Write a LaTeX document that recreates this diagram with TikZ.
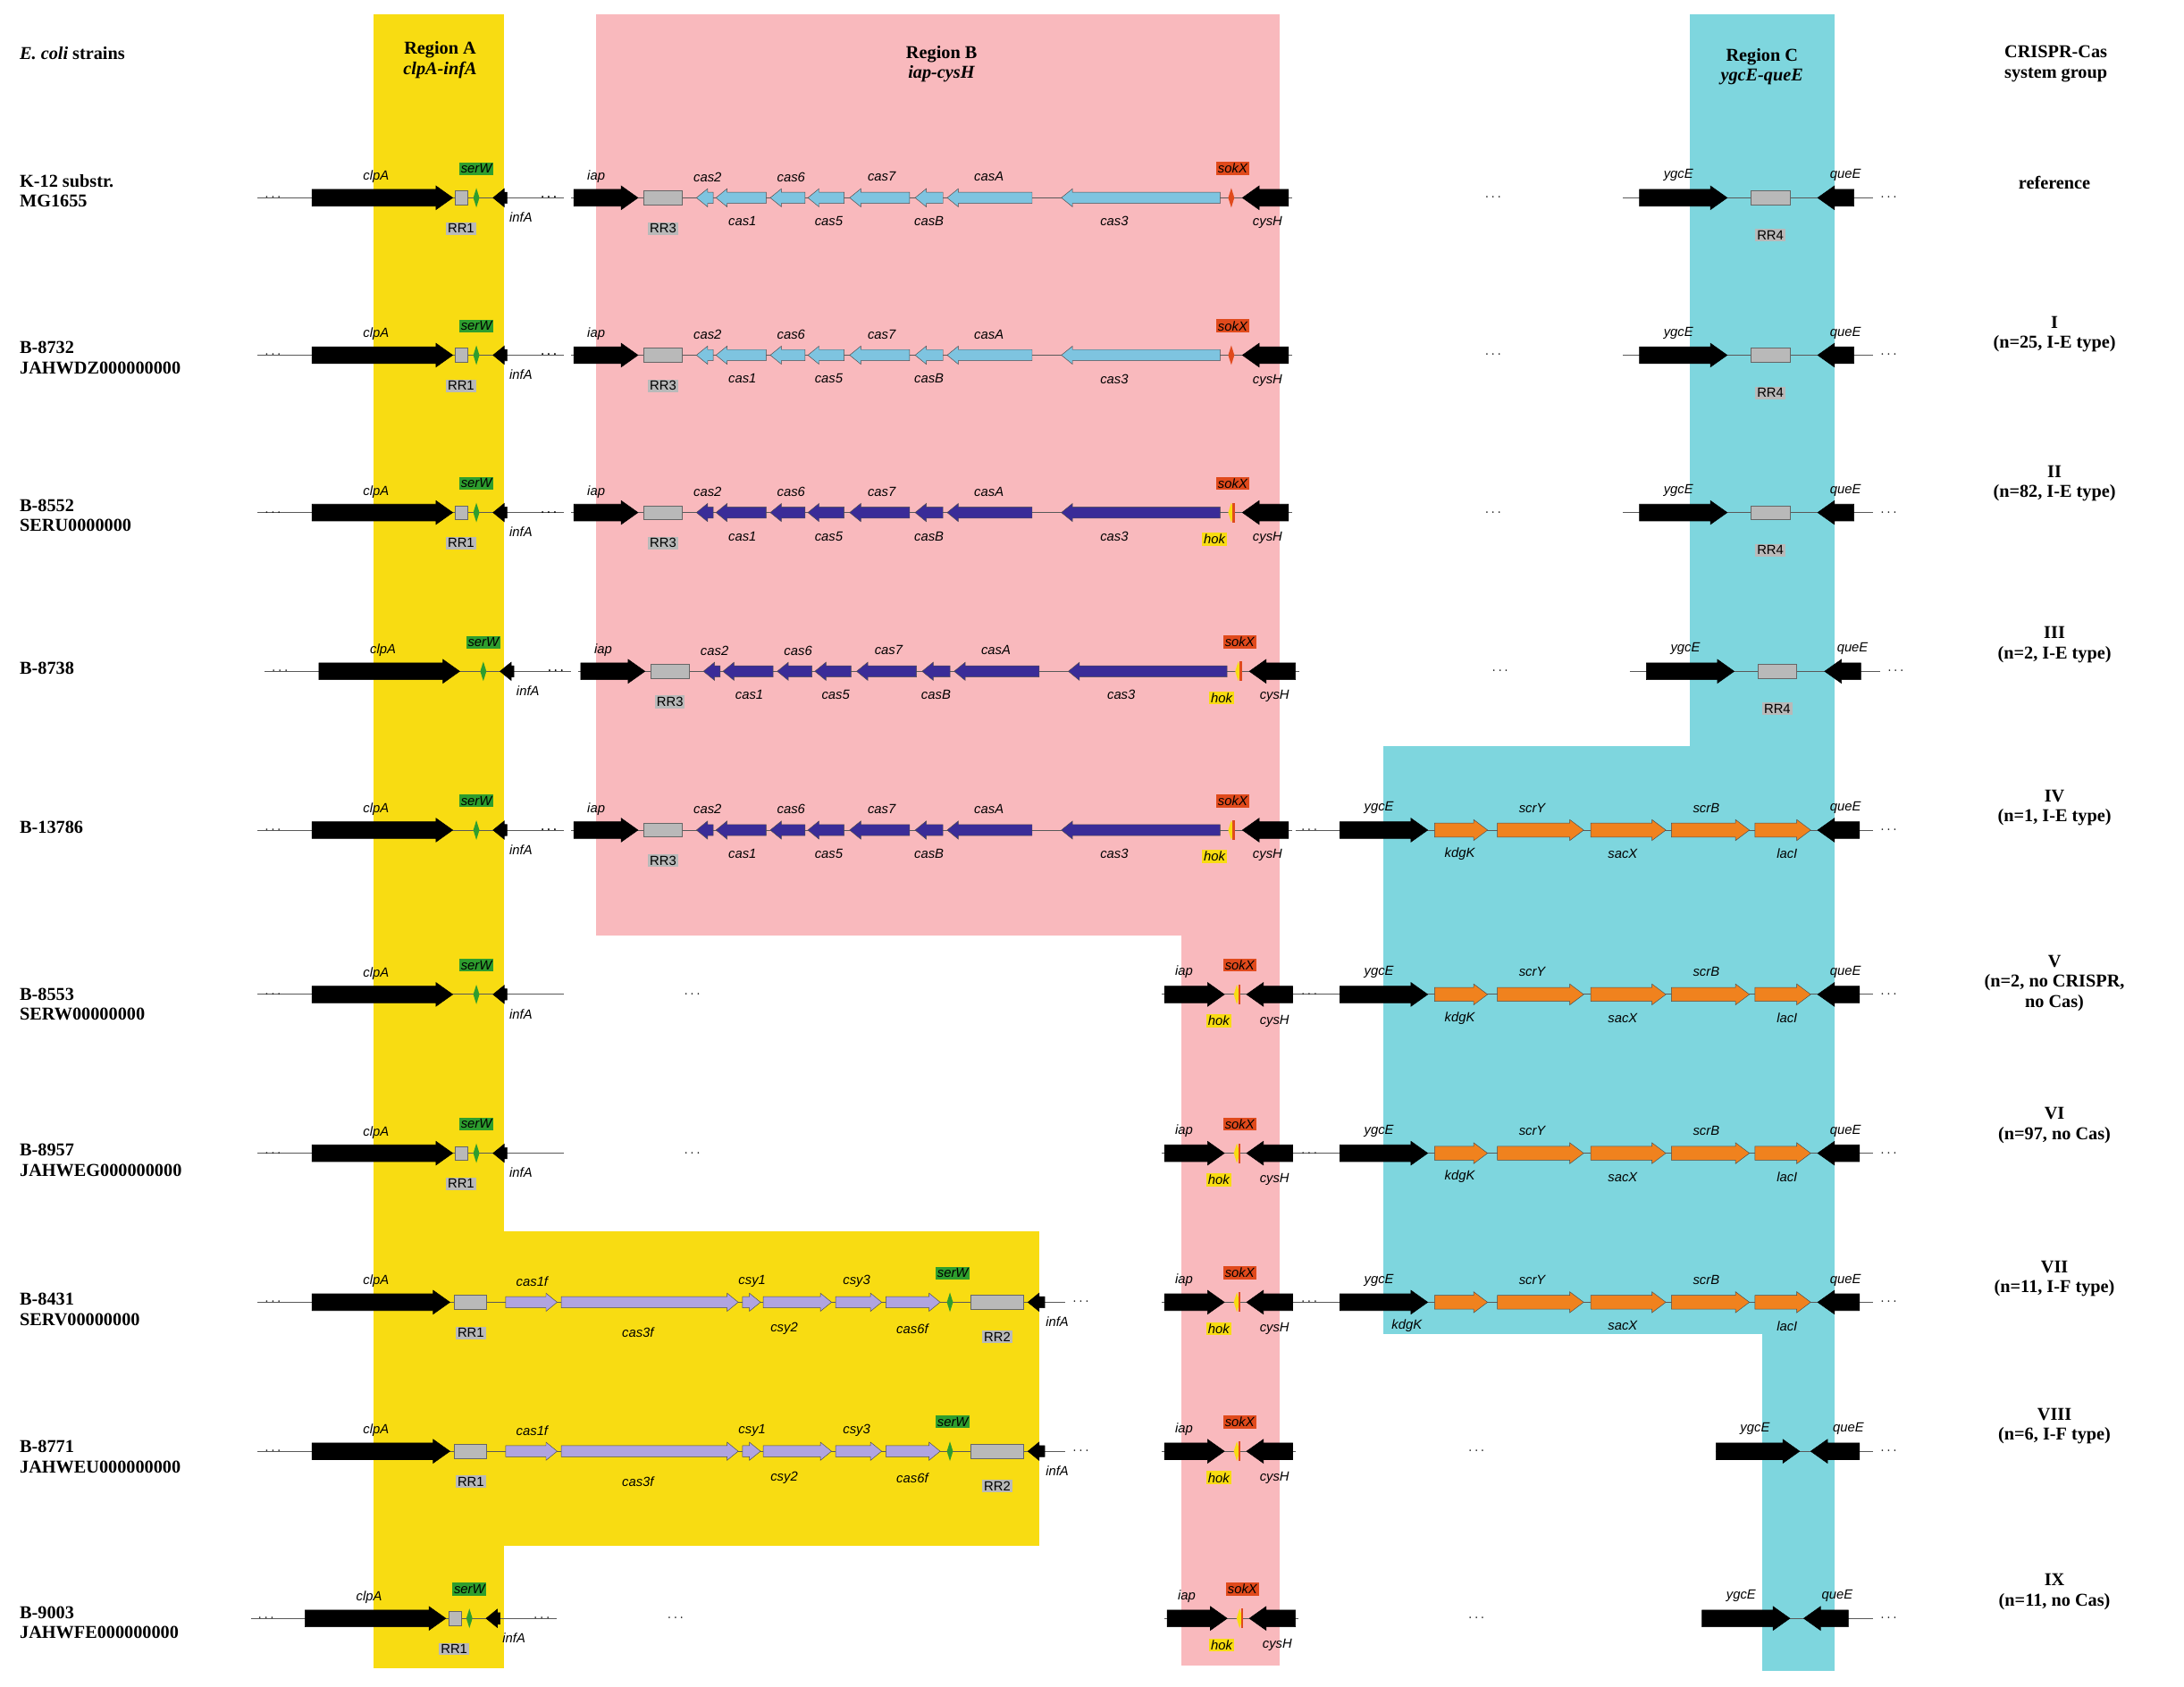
\documentclass[tikz,border=0pt]{standalone}
\usepackage{fontspec}
\setmainfont{Liberation Serif}
\setsansfont{Liberation Sans}
\definecolor{yel}{HTML}{F8DC12}
\definecolor{pnk}{HTML}{F9B9BD}
\definecolor{cyn}{HTML}{7ED6DE}
\definecolor{lb}{HTML}{7EC4E0}
\definecolor{db}{HTML}{3A2C98}
\definecolor{org}{HTML}{F0821E}
\definecolor{lav}{HTML}{B0A4E0}
\definecolor{sw}{HTML}{2E9E2E}
\definecolor{sk}{HTML}{E04A1C}
\definecolor{hk}{HTML}{F8DC12}
\tikzset{
 gl/.style={font=\sffamily\itshape\fontsize{9.5}{10}\selectfont, inner sep=0.5pt},
 rrbox/.style={gl, font=\sffamily\fontsize{9.5}{10}\selectfont, fill=gray!55, inner sep=1.2pt},
 serw/.style={gl, fill=sw, inner sep=1.2pt},
 sokx/.style={gl, fill=sk, inner sep=1.2pt},
 hokb/.style={gl, fill=hk, inner sep=1.2pt},
 ln/.style={draw=gray!70!black, line width=0.6pt},
 blk/.style={fill=black, draw=black},
 gene/.style={draw=black!70, line width=0.3pt},
 strain/.style={font=\bfseries\fontsize{13}{14.5}\selectfont, align=left, anchor=west, inner sep=0},
 grp/.style={font=\bfseries\fontsize{13}{14.5}\selectfont, align=center, inner sep=0},
 hdr/.style={font=\bfseries\fontsize{13}{14.5}\selectfont, align=center, inner sep=0},
 dts/.style={font=\fontsize{10}{10}\selectfont, inner sep=0}
}
\newcommand\rarr[5]{\draw[#4] (#1,{#3-#5}) -- ({#2-2*#5},{#3-#5}) -- ({#2-2*#5},{#3-#5-2.5}) -- (#2,#3) -- ({#2-2*#5},{#3+#5+2.5}) -- ({#2-2*#5},{#3+#5}) -- (#1,{#3+#5}) -- cycle;}
\newcommand\larr[5]{\draw[#4] (#2,{#3-#5}) -- ({#1+2*#5},{#3-#5}) -- ({#1+2*#5},{#3-#5-2.5}) -- (#1,#3) -- ({#1+2*#5},{#3+#5+2.5}) -- ({#1+2*#5},{#3+#5}) -- (#2,{#3+#5}) -- cycle;}
\newcommand\dia[3]{\fill[#3] (#1,{#2-7}) -- ({#1+2.2},#2) -- (#1,{#2+7}) -- ({#1-2.2},#2) -- cycle;}
% region A: y, rr1 flag, middle dots flag
\newcommand\regA[3]{%
 \draw[ln] (185,#1) -- (405,#1);
 \node[dts] at (196,#1) {$\cdots$};
 \ifnum#3=1 \node[dts] at (497,#1) {$\cdots$};\else \node[dts] at (394,#1) {$\cdots$};\fi
 \rarr{224}{325}{#1}{blk}{6}
 \node[gl] at (270,{#1-15}) {clpA};
 \ifnum#2=1
  \draw[fill=gray!55, draw=black!60] (327,{#1-5}) rectangle (336,{#1+5});
  \node[rrbox] at (331,{#1+22}) {RR1};
 \fi
 \dia{342}{#1}{sw}
 \node[serw] at (342,{#1-21}) {serW};
 \larr{354}{364}{#1}{blk}{4}
 \node[gl] at (374,{#1+14}) {infA};
}
% region B long: y, color, hok flag
\newcommand\regB[3]{%
 \draw[ln] (410,#1) -- (928,#1);
 \node[dts] at (394,#1) {$\cdots$};
 \rarr{412}{458}{#1}{blk}{6}
 \node[gl] at (428,{#1-15}) {iap};
 \draw[fill=gray!55, draw=black!60] (462,{#1-5}) rectangle (490,{#1+5});
 \node[rrbox] at (476,{#1+22}) {RR3};
 \foreach \a/\b in {500/512,514/550,553/578,580/606,610/653,657/677,680/741,762/876}
  {\larr{\a}{\b}{#1}{gene, fill=#2}{4}}
 \node[gl] at (508,{#1-15}) {cas2};
 \node[gl] at (568,{#1-15}) {cas6};
 \node[gl] at (633,{#1-15}) {cas7};
 \node[gl] at (710,{#1-15}) {casA};
 \node[gl] at (533,{#1+17}) {cas1};
 \node[gl] at (595,{#1+17}) {cas5};
 \node[gl] at (667,{#1+17}) {casB};
 \node[gl] at (800,{#1+17}) {cas3};
 \ifnum#3=1 \dia{884}{#1}{hk}\fill[sk] (885,{#1-7}) rectangle (886.5,{#1+7}); \node[hokb] at (872,{#1+19}) {hok};\else \dia{884}{#1}{sk}\fi
 \node[sokx] at (885,{#1-21}) {sokX};
 \larr{892}{925}{#1}{blk}{6}
 \node[gl] at (910,{#1+18}) {cysH};
}
% region B short
\newcommand\regBs[1]{%
 \draw[ln] (834,#1) -- (930,#1);
 \rarr{836}{879}{#1}{blk}{6}
 \node[gl] at (850,{#1-16}) {iap};
 \dia{888}{#1}{hk}\fill[sk] (889,{#1-7}) rectangle (890.5,{#1+7});
 \node[sokx] at (890,{#1-21}) {sokX};
 \node[hokb] at (875,{#1+19}) {hok};
 \larr{895}{928}{#1}{blk}{6}
 \node[gl] at (915,{#1+19}) {cysH};
}
% region C with RR4
\newcommand\regC[1]{%
 \draw[ln] (1165,#1) -- (1345,#1);
 \node[dts] at (1072,#1) {$\cdots$};
 \node[dts] at (1356,#1) {$\cdots$};
 \rarr{1177}{1240}{#1}{blk}{6}
 \draw[fill=gray!55, draw=black!60] (1257,{#1-5}) rectangle (1285,{#1+5});
 \node[rrbox] at (1271,{#1+27}) {RR4};
 \larr{1305}{1331}{#1}{blk}{6}
 \node[gl] at (1205,{#1-16}) {ygcE};
 \node[gl] at (1325,{#1-16}) {queE};
}
% region C orange: y, kdgK label x
\newcommand\regCo[2]{%
 \draw[ln] (930,#1) -- (1345,#1);
 \node[dts] at (940,#1) {$\cdots$};
 \node[dts] at (1356,#1) {$\cdots$};
 \rarr{962}{1025}{#1}{blk}{6}
 \foreach \a/\b in {1030/1068,1075/1137,1142/1196,1200/1256,1260/1300}
  {\rarr{\a}{\b}{#1}{gene, fill=org}{5}}
 \larr{1305}{1335}{#1}{blk}{6}
 \node[gl] at (990,{#1-16}) {ygcE};
 \node[gl] at (1100,{#1-16}) {scrY};
 \node[gl] at (1225,{#1-16}) {scrB};
 \node[gl] at (1325,{#1-16}) {queE};
 \node[gl] at (#2,{#1+17}) {kdgK};
 \node[gl] at (1165,{#1+17}) {sacX};
 \node[gl] at (1283,{#1+17}) {lacI};
}
% region C short
\newcommand\regCs[5]{% y, x1,x2,x3,x4
 \draw[ln] (#2,#1) -- (1345,#1);
 \node[dts] at (1060,#1) {$\cdots$};
 \node[dts] at (1356,#1) {$\cdots$};
 \rarr{#2}{#3}{#1}{blk}{6}
 \larr{#4}{#5}{#1}{blk}{6}
 \node[gl] at ({#2+28},{#1-16}) {ygcE};
 \node[gl] at ({#5-8},{#1-16}) {queE};
}
% extended yellow rows
\newcommand\regAx[1]{%
 \draw[ln] (185,#1) -- (765,#1);
 \node[dts] at (196,#1) {$\cdots$};
 \node[dts] at (776,#1) {$\cdots$};
 \rarr{224}{323}{#1}{blk}{6}
 \node[gl] at (270,{#1-15}) {clpA};
 \draw[fill=gray!55, draw=black!60] (326,{#1-5}) rectangle (349,{#1+5});
 \node[rrbox] at (338,{#1+22}) {RR1};
 \foreach \a/\b in {363/400,403/530,533/546,548/597,600/633,636/675}
  {\rarr{\a}{\b}{#1}{gene, fill=lav}{4}}
 \dia{682}{#1}{sw}
 \node[serw] at (684,{#1-21}) {serW};
 \draw[fill=gray!55, draw=black!60] (697,{#1-5}) rectangle (735,{#1+5});
 \node[rrbox] at (716,{#1+25}) {RR2};
 \larr{738}{750}{#1}{blk}{4}
 \node[gl] at (759,{#1+14}) {infA};
 \node[gl] at (382,{#1-15}) {cas1f};
 \node[gl] at (540,{#1-15}) {csy1};
 \node[gl] at (615,{#1-15}) {csy3};
 \node[gl] at (458,{#1+22}) {cas3f};
 \node[gl] at (563,{#1+19}) {csy2};
 \node[gl] at (655,{#1+19}) {cas6f};
}
\begin{document}
\begin{tikzpicture}[x=1pt,y=-1pt]
\useasboundingbox (0,0) rectangle (1568,1211);
\fill[white] (0,0) rectangle (1568,1211);
% backgrounds
\fill[yel] (268,10) rectangle (362,1198);
\fill[yel] (362,884) rectangle (746,1110);
\fill[pnk] (428,10) rectangle (919,672);
\fill[pnk] (848,672) rectangle (919,1196);
\fill[cyn] (1213,10) rectangle (1317,536);
\fill[cyn] (993,536) rectangle (1317,958);
\fill[cyn] (1265,958) rectangle (1317,1200);
% headers
\node[anchor=west, font=\bfseries\fontsize{13}{14.5}\selectfont, inner sep=0] at (14,38) {\textit{E. coli} strains};
\node[hdr] at (316,43) {Region A\\\textit{clpA-infA}};
\node[hdr] at (676,46) {Region B\\\textit{iap-cysH}};
\node[hdr] at (1265,48) {Region C\\\textit{ygcE-queE}};
\node[grp] at (1476,46) {CRISPR-Cas\\system group};
% strain labels
\node[strain] at (14,137) {K-12 substr.\\MG1655};
\node[strain] at (14,257) {B-8732\\JAHWDZ000000000};
\node[strain] at (14,370) {B-8552\\SERU0000000};
\node[strain] at (14,480) {B-8738};
\node[strain] at (14,594) {B-13786};
\node[strain] at (14,721) {B-8553\\SERW00000000};
\node[strain] at (14,833) {B-8957\\JAHWEG000000000};
\node[strain] at (14,940) {B-8431\\SERV00000000};
\node[strain] at (14,1046) {B-8771\\JAHWEU000000000};
\node[strain] at (14,1165) {B-9003\\JAHWFE000000000};
% groups
\node[grp] at (1475,131) {reference};
\node[grp] at (1475,240) {I\\(n=25, I-E type)};
\node[grp] at (1475,347) {II\\(n=82, I-E type)};
\node[grp] at (1475,463) {III\\(n=2, I-E type)};
\node[grp] at (1475,580) {IV\\(n=1, I-E type)};
\node[grp] at (1475,706) {V\\(n=2, no CRISPR,\\no Cas)};
\node[grp] at (1475,808) {VI\\(n=97, no Cas)};
\node[grp] at (1475,918) {VII\\(n=11, I-F type)};
\node[grp] at (1475,1024) {VIII\\(n=6, I-F type)};
\node[grp] at (1475,1143) {IX\\(n=11, no Cas)};
% rows
\regA{142}{1}{0}\regB{142}{lb}{0}\regC{142}
\regA{255}{1}{0}\regB{255}{lb}{0}\regC{255}
\regA{368}{1}{0}\regB{368}{db}{1}\regC{368}
\begin{scope}[xshift=5pt]\regA{482}{0}{0}\regB{482}{db}{1}\regC{482}\end{scope}
\regA{596}{0}{0}\regB{596}{db}{1}\regCo{596}{1048}
\regA{714}{0}{1}\regBs{714}\regCo{714}{1048}
\regA{828}{1}{1}\regBs{828}\regCo{828}{1048}
\regAx{935}\regBs{935}\regCo{935}{1010}
\regAx{1042}\regBs{1042}\regCs{1042}{1232}{1292}{1300}{1335}
\begin{scope}[xshift=-5pt]\regA{1162}{1}{0}\end{scope}
\node[dts] at (485,1162) {$\cdots$};
\begin{scope}[xshift=2pt]\regBs{1162}\end{scope}
\regCs{1162}{1222}{1285}{1295}{1327}
\end{tikzpicture}
\end{document}
